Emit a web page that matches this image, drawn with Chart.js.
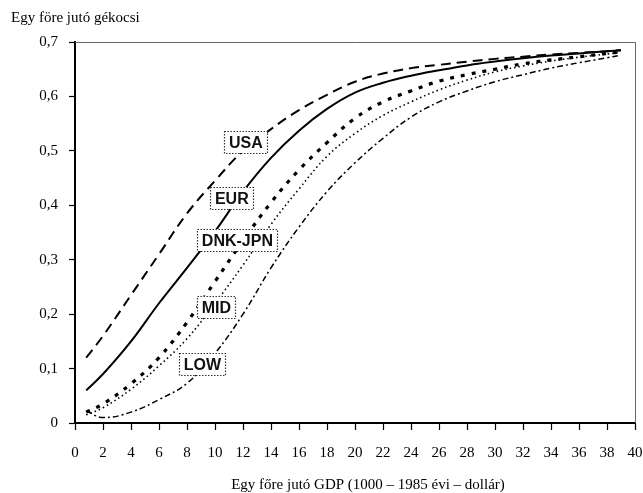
<!DOCTYPE html>
<html>
<head>
<meta charset="utf-8">
<script src="https://cdn.jsdelivr.net/npm/chart.js@4/dist/chart.umd.min.js"></script>
<style>
html,body{margin:0;padding:0;background:#fff;}
#wrap{width:643px;height:493px;position:relative;}
</style>
</head>
<body>
<div id="wrap"><canvas id="c"></canvas></div>
<script>
const gdp = [0.8, 2, 4, 6, 8, 10, 12, 14, 16, 18, 20, 22, 24, 26, 28, 30, 32, 34, 36, 38, 39];
const usa = [0.12, 0.16, 0.235, 0.31, 0.385, 0.445, 0.5, 0.54, 0.575, 0.603, 0.627, 0.642, 0.652, 0.658, 0.664, 0.669, 0.673, 0.677, 0.68, 0.683, 0.685];
const eur = [0.06, 0.09, 0.15, 0.22, 0.285, 0.352, 0.425, 0.487, 0.537, 0.577, 0.607, 0.625, 0.638, 0.648, 0.657, 0.664, 0.67, 0.675, 0.679, 0.683, 0.685];
const dnkJpn = [0.02, 0.035, 0.072, 0.12, 0.185, 0.26, 0.335, 0.405, 0.465, 0.515, 0.56, 0.59, 0.61, 0.628, 0.64, 0.65, 0.66, 0.667, 0.673, 0.679, 0.682];
const mid = [0.015, 0.028, 0.062, 0.105, 0.155, 0.22, 0.29, 0.365, 0.43, 0.49, 0.532, 0.565, 0.59, 0.612, 0.63, 0.645, 0.656, 0.665, 0.672, 0.678, 0.681];
const low = [0.022, 0.01, 0.02, 0.043, 0.073, 0.128, 0.2, 0.285, 0.36, 0.425, 0.478, 0.523, 0.562, 0.59, 0.61, 0.627, 0.64, 0.652, 0.662, 0.671, 0.676];
const seriesNames = ["USA", "EUR", "DNK-JPN", "MID", "LOW"];
const labelAnchorX = [12.2, 11.2, 11.6, 10.1, 9.1];
const labelAnchorY = [0.516, 0.413, 0.336, 0.213, 0.108];
const yTitle = "Egy före jutó gékocsi";
const xTitle = "Egy főre jutó GDP (1000 – 1985 évi – dollár)";

function pts(ys){ return gdp.map((x,i)=>({x:x, y:ys[i]})); }

const styles = [
  {borderWidth:2, borderDash:[10,6]},
  {borderWidth:2, borderDash:[]},
  {borderWidth:3.2, borderDash:[4,7]},
  {borderWidth:1.6, borderDash:[1.5,3]},
  {borderWidth:1.5, borderDash:[6,3,2,3]}
];
const allY = [usa, eur, dnkJpn, mid, low];

const datasets = allY.map((ys,i)=>({
  label: seriesNames[i],
  data: pts(ys),
  borderColor: '#000',
  backgroundColor: '#000',
  borderWidth: styles[i].borderWidth,
  borderDash: styles[i].borderDash,
  pointRadius: 0,
  fill: false,
  tension: 0.4
}));

const serif = "'Liberation Serif', 'Times New Roman', serif";

const decor = {
  id: 'decor',
  afterDatasetsDraw(chart){
    const ctx = chart.ctx, a = chart.chartArea;
    const xs = chart.scales.x, ys = chart.scales.y;
    ctx.save();
    ctx.strokeStyle = '#666';
    ctx.lineWidth = 1;
    ctx.setLineDash([]);
    ctx.beginPath();
    ctx.moveTo(a.left, a.top + 0.5);
    ctx.lineTo(a.right + 0.5, a.top + 0.5);
    ctx.lineTo(a.right + 0.5, a.bottom);
    ctx.stroke();
    ctx.font = "bold 16px 'Liberation Sans', Arial, sans-serif";
    ctx.textAlign = 'center';
    ctx.textBaseline = 'middle';
    seriesNames.forEach((n,i)=>{
      const cx = xs.getPixelForValue(labelAnchorX[i]);
      const cy = ys.getPixelForValue(labelAnchorY[i]);
      const w = Math.round(ctx.measureText(n).width + 9);
      const h = 22;
      const bx = Math.round(cx - w/2), by = Math.round(cy - h/2);
      ctx.fillStyle = '#fff';
      ctx.fillRect(bx, by, w, h);
      ctx.strokeStyle = '#333';
      ctx.lineWidth = 1.2;
      ctx.setLineDash([1.5,1.5]);
      ctx.strokeRect(bx + 0.5, by + 0.5, w, h);
      ctx.fillStyle = '#111';
      ctx.fillText(n, cx, cy + 1.5);
    });
    ctx.setLineDash([]);
    ctx.font = "15px " + serif;
    ctx.fillStyle = '#000';
    ctx.textAlign = 'left';
    ctx.textBaseline = 'alphabetic';
    ctx.fillText(yTitle, 11, 22);
    ctx.textAlign = 'center';
    ctx.textBaseline = 'middle';
    ctx.fillText(xTitle, 368, 485);
    ctx.restore();
  }
};

new Chart(document.getElementById('c'), {
  type: 'line',
  data: { datasets },
  options: {
    responsive: true,
    maintainAspectRatio: false,
    animation: false,
    layout: { padding: { top: 42, right: 0, left: 0, bottom: 0 } },
    plugins: { legend: { display: false }, tooltip: { enabled: false } },
    scales: {
      x: {
        type: 'linear',
        min: 0, max: 40,
        ticks: { stepSize: 2, color: '#000', font: { family: serif, size: 15 }, padding: 14, maxRotation: 0, autoSkip: false },
        grid: { drawOnChartArea: false, color: '#000', tickLength: 7, tickWidth: 1.2 },
        border: { color: '#000', width: 2 },
        afterFit(s){ s.height = 70; s.paddingRight = 8; s.paddingLeft = 0; }
      },
      y: {
        min: 0, max: 0.7,
        ticks: { stepSize: 0.1, color: '#000', font: { family: serif, size: 15 }, padding: 11,
          callback: v => v === 0 ? '0' : v.toFixed(1).replace('.', ',') },
        grid: { drawOnChartArea: false, color: '#000', tickLength: 6, tickWidth: 1.2 },
        border: { color: '#000', width: 2 },
        afterFit(s){ s.width = 75; }
      }
    }
  },
  plugins: [decor]
});
</script>
</body>
</html>
